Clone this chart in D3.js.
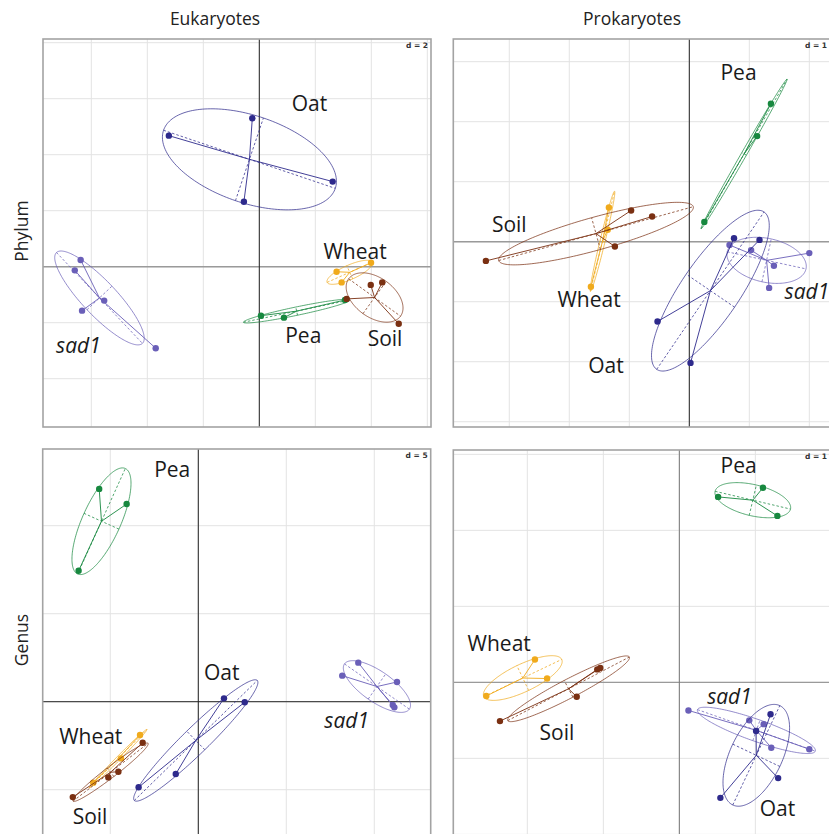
<!DOCTYPE html>
<html>
<head>
<meta charset="utf-8">
<script src="https://cdn.jsdelivr.net/npm/d3@7"></script>
<style>
  html, body { margin: 0; padding: 0; background: #fff; }
  svg { display: block; }
</style>
</head>
<body>
<svg id="chart" width="829" height="834"></svg>
<script>
// Groups (sample classes) and their colours
const groups = ["Oat", "sad1", "Pea", "Wheat", "Soil"];
const groupColors = ["#2e2a8c", "#6a5fb8", "#17883f", "#f0aa1c", "#7a3012"];
const italicGroups = ["sad1"];

const columnTitles = ["Eukaryotes", "Prokaryotes"];
const rowTitles = ["Phylum", "Genus"];

// Grid step (d) of each panel: Euk/Phylum, Prok/Phylum, Euk/Genus, Prok/Genus
const gridSteps = [2, 1, 5, 1];

// Axis windows of each panel [min, max]
const xDomains = [[-7.725, 6.132], [-3.933, 2.533], [-8.84, 13.205], [-2.974, 2.131]];
const yDomains = [[-5.725, 8.132], [-3.088, 3.378], [-7.687, 14.358], [-2.048, 3.057]];

// Ordination scores: [group, axis 1, axis 2]
const eukPhylum = [
  ["Oat", -0.25, 5.30], ["Oat", -3.23, 4.68], ["Oat", 2.62, 3.04], ["Oat", -0.55, 2.32],
  ["sad1", -6.38, 0.24], ["sad1", -6.59, -0.13], ["sad1", -5.54, -1.21], ["sad1", -6.33, -1.57], ["sad1", -3.70, -2.91],
  ["Pea", 0.06, -1.75], ["Pea", 0.88, -1.82], ["Pea", 3.06, -1.19],
  ["Wheat", 2.76, -0.18], ["Wheat", 3.99, 0.14], ["Wheat", 2.94, -0.56],
  ["Soil", 3.12, -1.15], ["Soil", 3.98, -0.65], ["Soil", 4.39, -0.56], ["Soil", 4.98, -2.04]
];
const prokPhylum = [
  ["Oat", 0.745, 0.057], ["Oat", 1.17, 0.03], ["Oat", -0.53, -1.33], ["Oat", 0.02, -2.02],
  ["sad1", 0.67, -0.055], ["sad1", 1.03, -0.14], ["sad1", 1.41, -0.40], ["sad1", 2.00, -0.19], ["sad1", 1.33, -0.77],
  ["Pea", 1.36, 2.30], ["Pea", 1.13, 1.76], ["Pea", 0.25, 0.33],
  ["Wheat", -1.34, 0.57], ["Wheat", -1.36, 0.20], ["Wheat", -1.64, -0.75],
  ["Soil", -3.39, -0.32], ["Soil", -0.97, 0.52], ["Soil", -0.62, 0.42], ["Soil", -1.24, -0.08]
];
const eukGenus = [
  ["Oat", 1.46, 0.19], ["Oat", 2.64, -0.03], ["Oat", -1.28, -4.11], ["Oat", -3.39, -4.86],
  ["sad1", 9.09, 2.22], ["sad1", 8.18, 1.48], ["sad1", 11.29, 1.12], ["sad1", 11.05, -0.19], ["sad1", 11.14, -0.32],
  ["Pea", -5.63, 12.09], ["Pea", -4.07, 11.23], ["Pea", -6.80, 7.44],
  ["Wheat", -3.31, -1.89], ["Wheat", -4.39, -3.22], ["Wheat", -5.97, -4.60],
  ["Soil", -3.16, -2.33], ["Soil", -4.54, -3.98], ["Soil", -5.11, -4.30], ["Soil", -7.13, -5.42]
];
const prokGenus = [
  ["Oat", 1.20, -0.42], ["Oat", 1.01, -0.64], ["Oat", 1.30, -1.26], ["Oat", 0.54, -1.52],
  ["sad1", 0.12, -0.37], ["sad1", 0.92, -0.50], ["sad1", 1.11, -0.55], ["sad1", 1.21, -0.86], ["sad1", 1.71, -0.88],
  ["Pea", 0.51, 2.44], ["Pea", 1.10, 2.56], ["Pea", 1.29, 2.19],
  ["Wheat", -1.90, 0.30], ["Wheat", -1.74, 0.05], ["Wheat", -2.54, -0.18],
  ["Soil", -1.08, 0.17], ["Soil", -1.04, 0.19], ["Soil", -1.35, -0.19], ["Soil", -2.36, -0.51]
];
const panelScores = [eukPhylum, prokPhylum, eukGenus, prokGenus];

// Where each group name is written, in axis units
const eukPhylumLabels = [["Oat", 1.79, 5.84], ["Wheat", 3.42, 0.56], ["Pea", 1.57, -2.44], ["Soil", 4.49, -2.58], ["sad1", -6.46, -2.80]];
const prokPhylumLabels = [["Pea", 0.82, 2.82], ["Soil", -3.0, 0.29], ["Wheat", -1.67, -0.97], ["Oat", -1.39, -2.06], ["sad1", 1.96, -0.83]];
const eukGenusLabels = [["Pea", -1.48, 13.22], ["Oat", 1.33, 1.67], ["sad1", 8.43, -1.04], ["Wheat", -6.11, -1.95], ["Soil", -6.15, -6.53]];
const prokGenusLabels = [["Pea", 0.78, 2.85], ["Wheat", -2.37, 0.51], ["Soil", -1.61, -0.66], ["sad1", 0.66, -0.19], ["Oat", 1.29, -1.66]];
const panelLabels = [eukPhylumLabels, prokPhylumLabels, eukGenusLabels, prokGenusLabels];

// ---- layout ----
const pageWidth = 829;
const panelSize = 388;
const panelOrigins = [[43, 39], [453.3, 39], [42.7, 449], [453.3, 450]];
const ellipseScale = 1.5;
const drawOrder = ["sad1", "Oat", "Pea", "Wheat", "Soil"];

const svg = d3.select("#chart");
const color = d3.scaleOrdinal(groups, groupColors);
const fontFamily = "'Open Sans', 'Noto Sans', sans-serif";

// column and row headings
columnTitles.forEach((t, i) => {
  svg.append("text")
    .attr("x", [215, 632][i]).attr("y", 25)
    .attr("text-anchor", "middle")
    .attr("font-family", fontFamily).attr("font-size", 17.5)
    .attr("fill", "#222").text(t);
});
rowTitles.forEach((t, i) => {
  svg.append("text")
    .attr("transform", `translate(28,${[231, 640][i]}) rotate(-90)`)
    .attr("text-anchor", "middle")
    .attr("font-family", fontFamily).attr("font-size", 17.5)
    .attr("fill", "#222").text(t);
});

// mean / population covariance -> ellipse axes
function classStats(pts) {
  const n = pts.length;
  const mx = d3.mean(pts, p => p[1]);
  const my = d3.mean(pts, p => p[2]);
  let sxx = 0, syy = 0, sxy = 0;
  pts.forEach(p => {
    const dx = p[1] - mx, dy = p[2] - my;
    sxx += dx * dx; syy += dy * dy; sxy += dx * dy;
  });
  sxx /= n; syy /= n; sxy /= n;
  const m = (sxx + syy) / 2;
  const r = Math.sqrt(((sxx - syy) / 2) ** 2 + sxy * sxy);
  const l1 = m + r, l2 = Math.max(m - r, 0);
  const theta = 0.5 * Math.atan2(2 * sxy, sxx - syy);
  return {
    mx, my, theta,
    a: ellipseScale * Math.sqrt(l1),
    b: ellipseScale * Math.sqrt(l2)
  };
}

panelScores.forEach((scores, pi) => {
  const [left, top] = panelOrigins[pi];
  const x = d3.scaleLinear().domain(xDomains[pi]).range([left, left + panelSize]);
  const y = d3.scaleLinear().domain(yDomains[pi]).range([top + panelSize, top]);
  const d = gridSteps[pi];

  const clipId = "clip" + pi;
  svg.append("clipPath").attr("id", clipId)
    .append("rect").attr("x", left).attr("y", top)
    .attr("width", panelSize).attr("height", panelSize);

  const g = svg.append("g").attr("clip-path", `url(#${clipId})`);

  // grid
  const xt = d3.range(Math.ceil(xDomains[pi][0] / d) * d, xDomains[pi][1], d);
  const yt = d3.range(Math.ceil(yDomains[pi][0] / d) * d, yDomains[pi][1], d);
  g.selectAll(".gx").data(xt).join("line")
    .attr("x1", v => x(v)).attr("x2", v => x(v))
    .attr("y1", top).attr("y2", top + panelSize)
    .attr("stroke", "#e3e3e3").attr("stroke-width", 1);
  g.selectAll(".gy").data(yt).join("line")
    .attr("y1", v => y(v)).attr("y2", v => y(v))
    .attr("x1", left).attr("x2", left + panelSize)
    .attr("stroke", "#e3e3e3").attr("stroke-width", 1);

  // origin lines
  g.append("line")
    .attr("x1", left).attr("x2", left + panelSize)
    .attr("y1", y(0)).attr("y2", y(0))
    .attr("stroke", pi === 2 ? "#222" : "#9a9a9a").attr("stroke-width", pi === 2 ? 1 : 1.4);
  g.append("line")
    .attr("x1", x(0)).attr("x2", x(0))
    .attr("y1", top).attr("y2", top + panelSize)
    .attr("stroke", pi === 3 ? "#777" : "#222").attr("stroke-width", 1);

  const line = d3.line().x(p => x(p[0])).y(p => y(p[1]));

  drawOrder.forEach(grp => {
    const pts = scores.filter(s => s[0] === grp);
    if (!pts.length) return;
    const st = classStats(pts);
    const c = color(grp);
    const ct = Math.cos(st.theta), sn = Math.sin(st.theta);

    // ellipse outline
    const ring = d3.range(0, 2 * Math.PI + 0.001, Math.PI / 90).map(t => {
      const u = st.a * Math.cos(t), v = st.b * Math.sin(t);
      return [st.mx + u * ct - v * sn, st.my + u * sn + v * ct];
    });
    g.append("path").attr("d", line(ring))
      .attr("fill", "none").attr("stroke", c)
      .attr("stroke-width", 0.85).attr("stroke-opacity", 0.85);

    // ellipse axes (dashed)
    const axes = [
      [[st.mx - st.a * ct, st.my - st.a * sn], [st.mx + st.a * ct, st.my + st.a * sn]],
      [[st.mx + st.b * sn, st.my - st.b * ct], [st.mx - st.b * sn, st.my + st.b * ct]]
    ];
    axes.forEach(seg => {
      g.append("path").attr("d", line(seg))
        .attr("fill", "none").attr("stroke", c)
        .attr("stroke-width", 0.75).attr("stroke-dasharray", "2.5,2");
    });

    // star: centroid to each sample
    pts.forEach(p => {
      g.append("path").attr("d", line([[st.mx, st.my], [p[1], p[2]]]))
        .attr("fill", "none").attr("stroke", c).attr("stroke-width", 0.9);
    });

    // samples
    g.selectAll(null).data(pts).join("circle")
      .attr("cx", p => x(p[1])).attr("cy", p => y(p[2]))
      .attr("r", 3.2).attr("fill", c);
  });

  // group names
  panelLabels[pi].forEach(l => {
    g.append("text")
      .attr("x", x(l[1])).attr("y", y(l[2])).attr("dy", "0.36em")
      .attr("text-anchor", "middle")
      .attr("font-family", fontFamily).attr("font-size", 21)
      .attr("font-style", italicGroups.includes(l[0]) ? "italic" : "normal")
      .attr("fill", "#1a1a1a").text(l[0]);
  });

  // d = step note in the top-right corner, kept inside the page
  svg.append("text")
    .attr("x", Math.min(left + panelSize - 3, pageWidth - 2)).attr("y", top + 9)
    .attr("text-anchor", "end")
    .attr("font-family", "'DejaVu Sans', sans-serif").attr("font-size", 7.5)
    .attr("font-weight", "bold").attr("fill", "#333")
    .text(`d = ${d}`);

  // frame
  svg.append("rect")
    .attr("x", left).attr("y", top).attr("width", panelSize).attr("height", panelSize)
    .attr("fill", "none").attr("stroke", "#a3a3a3").attr("stroke-width", 1.6);
});
</script>
</body>
</html>
